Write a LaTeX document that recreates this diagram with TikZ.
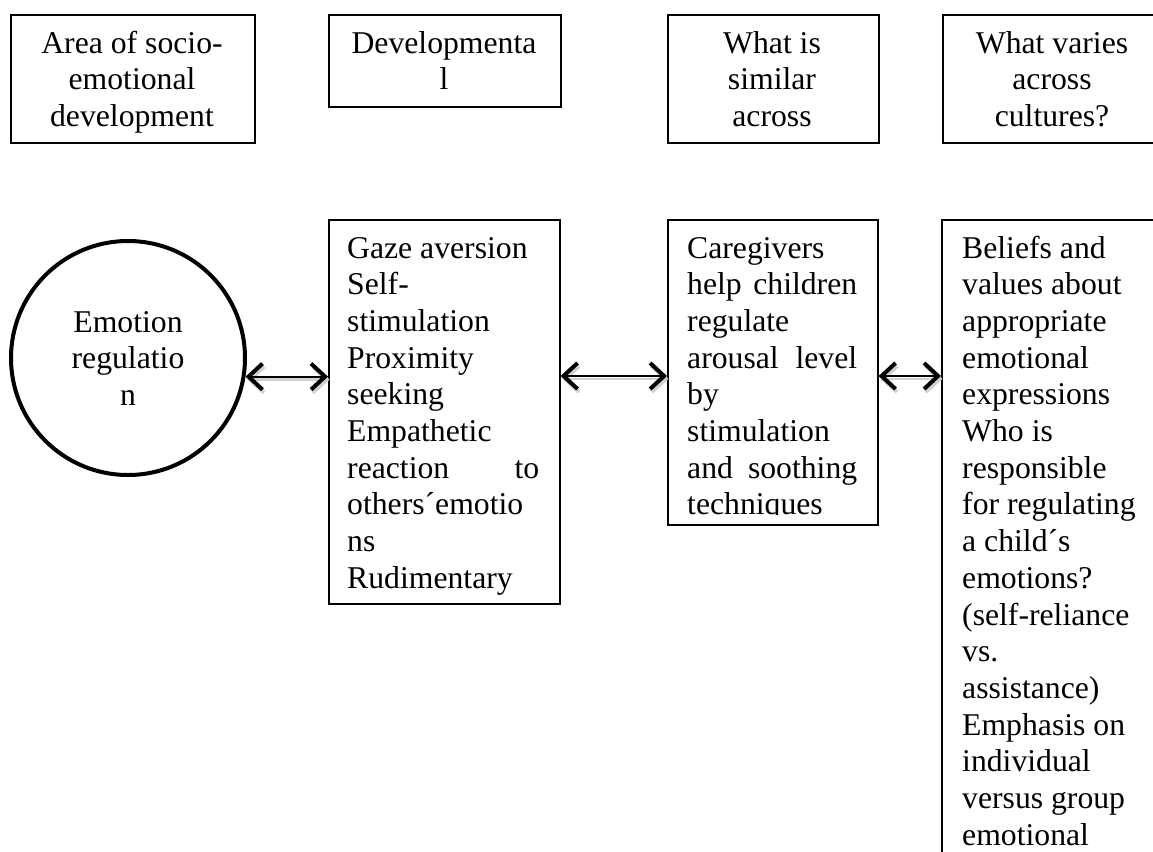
\documentclass[tikz,border=0pt]{standalone}
\usepackage{fontspec}
\setmainfont{Liberation Serif}
\usetikzlibrary{positioning,arrows.meta,calc}

\begin{document}
\begin{tikzpicture}[x=1pt,y=-1pt,
hdbox/.style={
  draw,
  line width=1.6pt,
  anchor=north west,
  inner sep=0pt},
txt/.style={
  inner sep=0pt,
  font=\fontsize{31.7}{36.7}\selectfont},
ctxt/.style={
  txt,
  anchor=base,
  align=flush center},
ltxt/.style={
  txt,
  anchor=base west,
  align=flush left},
link/.style={
  <->,
  >={Straight Barb[length=14pt,width=26pt,line width=4pt]},
  line width=1.8pt,
  preaction={draw=black!18,line width=2.5pt,transform canvas={shift={(1.5pt,-3pt)}}}}
]
\clip (0,0) rectangle (1153,851);

% header row
\node[hdbox,minimum width=244pt,minimum height=128pt] (area) at (10,14) {};
\node[hdbox,minimum width=232pt,minimum height=92pt] (devl) at (328,14) {};
\node[hdbox,minimum width=211pt,minimum height=128pt] (simi) at (667,14) {};
\node[hdbox,minimum width=260pt,minimum height=128pt] (vari) at (942,14) {};
\node[ctxt,text width=230pt] (areatxt) at (132,53) {Area of socio-\\emotional\\development};
\node[ctxt,text width=220pt] (devltxt) at (444,53) {Developmenta\\l};
\node[ctxt,text width=200pt] (simitxt) at (772,53) {What is\\similar\\across};
\node[ctxt,text width=220pt] (varitxt) at (1052,53) {What varies\\across\\cultures?};

% second row
\node[draw,circle,line width=4pt,minimum size=234pt,inner sep=0pt] (circ) at (128,358) {};
\node[ctxt,text width=200pt] (circtxt) at (128,332) {Emotion\\regulatio\\n};

\node[hdbox,minimum width=231pt,minimum height=384pt] (gaze) at (328,219) {};
\node[hdbox,minimum width=210pt,minimum height=305pt] (care) at (667,219) {};
\node[hdbox,minimum width=260pt,minimum height=700pt] (beli) at (941,219) {};

\begin{scope}
\clip (gaze.north west) rectangle ($(gaze.south east)+(0,-10)$);
\node[ltxt,text width=192pt] (gazetxt) at (347,258) {Gaze aversion\\Self-\\stimulation\\Proximity\\seeking\\Empathetic\\reaction\hfill to\\others´emotio\\ns\\Rudimentary\\empathy};
\end{scope}
\begin{scope}
\clip (care.north west) rectangle ($(care.south east)+(0,-11)$);
\node[ltxt,text width=170pt] (caretxt) at (687,258) {Caregivers\\help\hfill children\\regulate\\arousal\hfill level\\by\\stimulation\\and\hfill soothing\\techniques};
\end{scope}
\node[ltxt,text width=185pt] (belitxt) at (962,258) {Beliefs and\\values about\\appropriate\\emotional\\expressions\\Who is\\responsible\\for regulating\\a child´s\\emotions?\\(self-reliance\\vs.\\assistance)\\Emphasis on\\individual\\versus group\\emotional};

% connectors
\coordinate (lvl) at (0,376);
\draw[link] (circ.-9) -- (circ.-9 -| gaze.west);
\draw[link] (lvl -| gaze.east) -- (lvl -| care.west);
\draw[link] (lvl -| care.east) -- (lvl -| beli.west);
\end{tikzpicture}
\end{document}
